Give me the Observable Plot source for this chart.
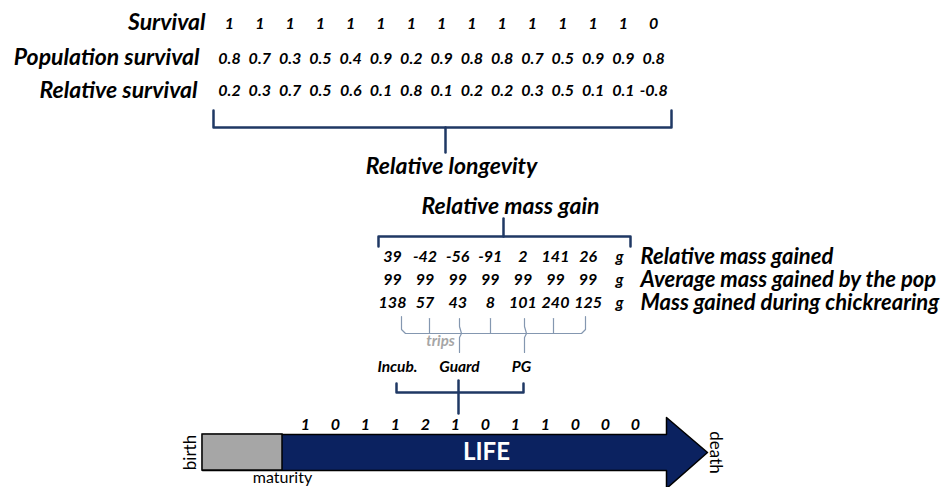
<!DOCTYPE html>
<html><head><meta charset="utf-8">
<script src="https://cdn.jsdelivr.net/npm/d3@7"></script>
<script src="https://cdn.jsdelivr.net/npm/@observablehq/plot@0.6"></script>
<style>body{margin:0;background:#fff;overflow:hidden}</style>
</head><body><div id="chart"></div>
<script>
// ---- data ----
const survivalLabels = ["Survival", "Population survival", "Relative survival"];
const survival = [1,1,1,1,1,1,1,1,1,1,1,1,1,1,0];
const popSurvival = [0.8,0.7,0.3,0.5,0.4,0.9,0.2,0.9,0.8,0.8,0.7,0.5,0.9,0.9,0.8];
const relSurvival = [0.2,0.3,0.7,0.5,0.6,0.1,0.8,0.1,0.2,0.2,0.3,0.5,0.1,0.1,-0.8];
const massLabels = ["Relative mass gained", "Average mass gained by the pop", "Mass gained during chickrearing"];
const relMass = [39,-42,-56,-91,2,141,26];
const avgMass = [99,99,99,99,99,99,99];
const massGained = [138,57,43,8,101,240,125];
const massUnit = "g";
const stages = ["Incub.", "Guard", "PG"];
const breeding = [1,0,1,1,2,1,0,1,1,0,0,0];
const titles = {longevity: "Relative longevity", massGain: "Relative mass gain", trips: "trips"};

// ---- layout ----
const NAVY = "#1f3864", ARROW = "#0b2260", FONT = "Lato, 'Open Sans', sans-serif";
const colS = i => 229 + i * 30.3;      // survival columns
const colM = i => 392 + i * 32.6;      // mass columns
const colB = i => 305 + i * 30.0;      // breeding columns
const stageX = [397, 459, 521];
const LBL = {fontSize: 23, fontWeight: "bold", fontStyle: "italic", fill: "black"};
const VAL = {fontSize: 16, fontWeight: "bold", fontStyle: "italic", fill: "black"};

const rowText = (arr, y, col) => arr.map((v, i) => ({x: col(i), y, t: String(v)}));
const survRows = [
  ...rowText(survival, 23, colS),
  ...rowText(popSurvival, 58, colS),
  ...rowText(relSurvival, 90, colS)
];
const massRows = [
  ...rowText(relMass, 256, colM),
  ...rowText(avgMass, 279, colM),
  ...rowText(massGained, 302, colM),
  ...[256, 279, 302].map(y => ({x: 619, y, t: massUnit}))
];

function seg(id, pts) { return pts.map(([x, y]) => ({x, y, id})); }
const bigBrackets = [
  ...seg("L1", [[213,110],[213,127],[671,127],[671,110]]),
  ...seg("L2", [[445,127],[445,152]]),
  ...seg("M1", [[378,246],[378,236],[630,236],[630,246]]),
  ...seg("M2", [[503,236],[503,218]]),
  ...seg("S1", [[396,383],[396,392],[523,392],[523,383]]),
  ...seg("S2", [[458,380],[458,413]])
];
const tripLines = [
  ...seg("T1", [[401,316],[401,329],[405,333],[581,333],[585,329],[585,316]]),
  ...[429, 490, 553].flatMap((x, k) => seg("t" + k, [[x,318],[x,333]])),
  ...[459, 524].flatMap((x, k) => seg("b" + k, [[x,318],[x,326],[x+2,333],[x,337],[x,352]]))
];
const arrow = seg("A", [[202,434],[666,434],[666,417],[707,452],[666,488],[666,470],[202,470],[202,434]]);

const plot = Plot.plot({
  width: 952, height: 487, margin: 0,
  x: {domain: [0, 952], range: [0, 952], axis: null},
  y: {domain: [0, 487], range: [0, 487], axis: null},
  style: {background: "white", fontFamily: FONT},
  marks: [
    // survival block
    Plot.text(survivalLabels, {x: [205, 199, 197], y: [22, 57, 90], text: d => d, textAnchor: "end", ...LBL}),
    Plot.text(survRows, {x: "x", y: "y", text: "t", ...VAL}),
    // brackets
    Plot.line(bigBrackets, {x: "x", y: "y", z: "id", stroke: NAVY, strokeWidth: 2.5, strokeLinejoin: "round"}),
    Plot.line(tripLines, {x: "x", y: "y", z: "id", stroke: "#8497b0", strokeWidth: 1.2}),
    Plot.text([titles.longevity], {x: 451, y: 166, text: d => d, ...LBL}),
    Plot.text([titles.massGain], {x: 510, y: 206, text: d => d, ...LBL}),
    // mass block
    Plot.text(massRows, {x: "x", y: "y", text: "t", ...VAL}),
    Plot.text(massLabels, {x: 640, y: [256, 279, 302], text: d => d, textAnchor: "start", ...LBL, fontSize: 22}),
    Plot.text([titles.trips], {x: 440, y: 341, text: d => d, fontSize: 15, fontWeight: "bold", fontStyle: "italic", fill: "#a6a6a6"}),
    Plot.text(stages, {x: stageX, y: 367, text: d => d, fontSize: 15.5, fontWeight: "bold", fontStyle: "italic", fill: "black"}),
    // life arrow
    Plot.line(arrow, {x: "x", y: "y", z: "id", fill: ARROW, stroke: "black", strokeWidth: 1.5}),
    Plot.rect([0], {x1: 202, x2: 282, y1: 434, y2: 470, fill: "#a6a6a6", stroke: "black", strokeWidth: 1.5}),
    Plot.text(["LIFE"], {x: 486, y: 452, text: d => d, fontSize: 24, fontWeight: "bold", fill: "white"}),
    Plot.text(["birth"], {x: 190, y: 452, text: d => d, rotate: -90, fontSize: 17, fill: "black"}),
    Plot.text(["death"], {x: 715, y: 452, text: d => d, rotate: 90, fontSize: 17, fill: "black"}),
    Plot.text(["maturity"], {x: 282, y: 477, text: d => d, fontSize: 16, fill: "black"}),
    Plot.text(breeding, {x: (d, i) => colB(i), y: 424, text: d => String(d), ...VAL})
  ]
});
document.getElementById("chart").append(plot);
</script></body></html>
